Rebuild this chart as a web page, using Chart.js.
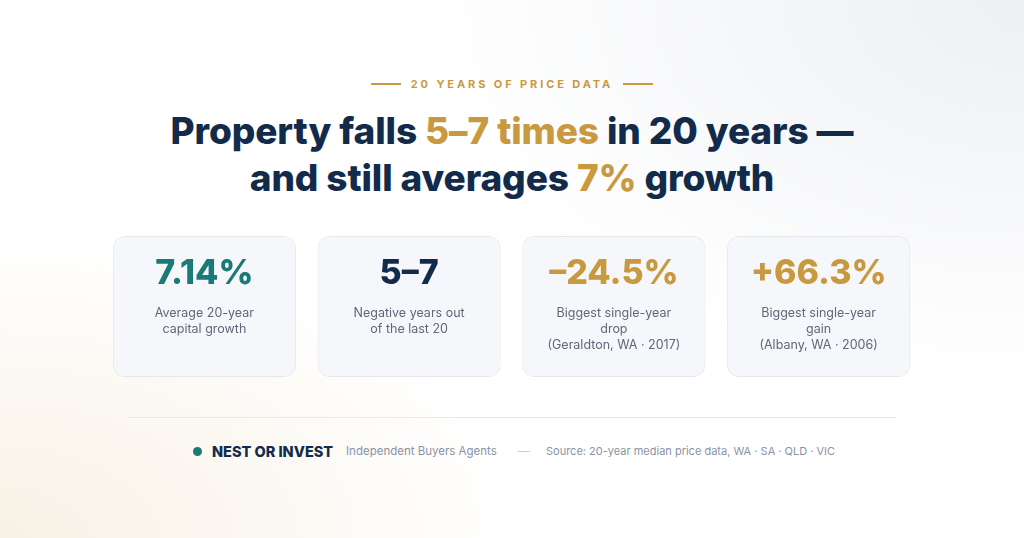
<!DOCTYPE html>
<html>
<head>
<meta charset="utf-8">
<script src="https://cdn.jsdelivr.net/npm/chart.js@4.4.0/dist/chart.umd.min.js"></script>
<style>
  html, body { margin: 0; padding: 0; }
  body {
    width: 1024px; height: 538px; overflow: hidden; position: relative;
    font-family: "Inter", "Noto Sans", sans-serif;
    background:
      radial-gradient(ellipse 520px 300px at 0% 100%, rgba(246, 236, 220, 0.75), rgba(255,255,255,0) 100%),
      radial-gradient(ellipse 600px 380px at 100% 0%, rgba(236, 238, 242, 0.9), rgba(255,255,255,0) 100%),
      #ffffff;
  }
  .eyebrow {
    position: absolute; top: 77px; left: 0; width: 1024px; text-align: center;
    color: #c9993f; font-size: 11px; font-weight: 700; letter-spacing: 2.9px;
  }
  .eyebrow span.rule { display: inline-block; width: 30px; height: 2px; background: #c9993f; vertical-align: middle; margin: 0 10px; position: relative; top: -1px; }
  h1 {
    position: absolute; top: 107px; left: 0; width: 1024px; margin: 0; text-align: center;
    color: #132b4a; font-size: 37px; font-weight: 800; line-height: 47px; letter-spacing: -0.1px;
  }
  h1 .gold { color: #c9993f; }
  #wrap { position: absolute; left: 102px; top: 236px; width: 819px; height: 141px; }
  .divider { position: absolute; left: 128px; top: 417px; width: 768px; height: 1px; background: #e8e9ec; }
  .footer { position: absolute; top: 442px; font-size: 11.5px; color: #8a93a3; white-space: nowrap; }
  .footer .dot { display: inline-block; width: 9px; height: 9px; border-radius: 50%; background: #1b7a78; }
  .footer .brand { color: #132b4a; font-weight: 800; font-size: 14.5px; letter-spacing: 0px; }
</style>
</head>
<body>
<div class="eyebrow"><span class="rule"></span>20 YEARS OF PRICE DATA<span class="rule"></span></div>
<h1>Property falls <span class="gold">5–7 times</span> in 20 years —<br>and still averages <span class="gold">7%</span> growth</h1>
<div id="wrap"><canvas id="cards"></canvas></div>
<div class="divider"></div>
<div class="footer" style="left:193px; top:445px;"><span class="dot"></span></div>
<div class="footer" style="left:212px; top:443px;"><span class="brand">NEST OR INVEST</span></div>
<div class="footer" style="left:346px; top:444px;">Independent Buyers Agents</div>
<div class="footer" style="left:518px; top:444px; color:#c8ccd3;">—</div>
<div class="footer" style="left:546px; top:444px; font-size:11px;">Source: 20-year median price data, WA · SA · QLD · VIC</div>
<script>
// stat cards
const statKeys = ["growth", "negative", "drop", "gain"];
const statValues = ["7.14%", "5–7", "–24.5%", "+66.3%"];
const statLabels = [
  ["Average 20-year", "capital growth"],
  ["Negative years out", "of the last 20"],
  ["Biggest single-year", "drop", "(Geraldton, WA · 2017)"],
  ["Biggest single-year", "gain", "(Albany, WA · 2006)"]
];
const cardFill = [1, 1, 1, 1];

const valueColors = ["#1b7a78", "#132b4a", "#c9993f", "#c9993f"];

const cardText = {
  id: "cardText",
  afterDatasetsDraw(chart) {
    const ctx = chart.ctx;
    const x = chart.scales.x;
    const top = chart.chartArea.top;
    ctx.save();
    ctx.textAlign = "center";
    ctx.textBaseline = "alphabetic";
    statKeys.forEach((k, i) => {
      const cx = x.getPixelForValue(i);
      ctx.fillStyle = valueColors[i];
      ctx.font = "800 34px Inter, 'Noto Sans', sans-serif";
      ctx.fillText(statValues[i], cx, top + 48);
      ctx.fillStyle = "#5f6878";
      ctx.font = "400 12.5px Inter, 'Noto Sans', sans-serif";
      statLabels[i].forEach((line, j) => {
        ctx.fillText(line, cx, top + 81 + j * 16);
      });
    });
    ctx.restore();
  }
};

new Chart(document.getElementById("cards"), {
  type: "bar",
  data: {
    labels: statKeys,
    datasets: [{
      data: cardFill,
      backgroundColor: "rgba(245, 247, 250, 0.95)",
      borderColor: "#e4e7ec",
      borderWidth: 1,
      borderSkipped: false,
      borderRadius: 12,
      categoryPercentage: 1,
      barPercentage: 0.894
    }]
  },
  options: {
    responsive: true,
    maintainAspectRatio: false,
    animation: false,
    layout: { padding: 0 },
    scales: {
      x: { display: false },
      y: { display: false, min: 0, max: 1 }
    },
    plugins: { legend: { display: false }, tooltip: { enabled: false } }
  },
  plugins: [cardText]
});
</script>
</body>
</html>
